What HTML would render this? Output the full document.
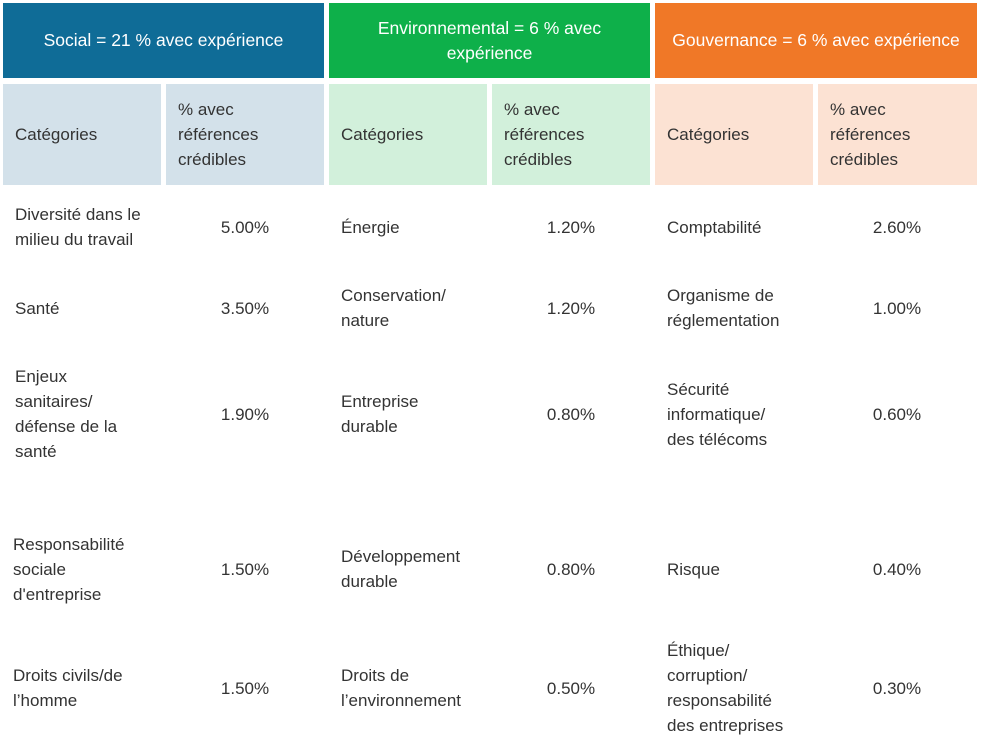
<!DOCTYPE html>
<html><head><meta charset="utf-8"><style>
body{margin:0;width:983px;height:746px;background:#fff;position:relative;overflow:hidden;font-family:"Liberation Sans",sans-serif;color:#333;font-size:17px;}
.b{position:absolute;display:flex;align-items:center;box-sizing:border-box;}
.h{color:#fff;justify-content:center;text-align:center;font-size:17.5px;line-height:25px;padding:0 10px}
.s{padding-left:12px;line-height:25px}
.c{line-height:25px}
.v{justify-content:center}
</style></head><body>
<div class="b h" style="left:3px;top:3px;width:321px;height:75px;background:#0F6C97">Social = 21 % avec expérience</div>
<div class="b h" style="left:329px;top:3px;width:321px;height:75px;background:#0EB04A">Environnemental = 6 % avec expérience</div>
<div class="b h" style="left:655px;top:3px;width:322px;height:75px;background:#F07827">Gouvernance = 6 % avec expérience</div>

<div class="b s" style="left:3px;top:84px;width:158px;height:101px;background:#D3E1EA">Catégories</div>
<div class="b s" style="left:166px;top:84px;width:158px;height:101px;background:#D3E1EA">% avec<br>références<br>crédibles</div>
<div class="b s" style="left:329px;top:84px;width:158px;height:101px;background:#D2F0DB">Catégories</div>
<div class="b s" style="left:492px;top:84px;width:158px;height:101px;background:#D2F0DB">% avec<br>références<br>crédibles</div>
<div class="b s" style="left:655px;top:84px;width:158px;height:101px;background:#FCE2D3">Catégories</div>
<div class="b s" style="left:818px;top:84px;width:159px;height:101px;background:#FCE2D3">% avec<br>références<br>crédibles</div>

<div id="rows"></div>
<script>
const rowCenters=[227,308,414,569,688];
const socialCats=["Diversité dans le<br>milieu du travail","Santé","Enjeux<br>sanitaires/<br>défense de la<br>santé","Responsabilité<br>sociale<br>d'entreprise","Droits civils/de<br>l’homme"];
const socialVals=["5.00%","3.50%","1.90%","1.50%","1.50%"];
const envCats=["Énergie","Conservation/<br>nature","Entreprise<br>durable","Développement<br>durable","Droits de<br>l’environnement"];
const envVals=["1.20%","1.20%","0.80%","0.80%","0.50%"];
const govCats=["Comptabilité","Organisme de<br>réglementation","Sécurité<br>informatique/<br>des télécoms","Risque","Éthique/<br>corruption/<br>responsabilité<br>des entreprises"];
const govVals=["2.60%","1.00%","0.60%","0.40%","0.30%"];
const groups=[["social",socialCats,socialVals,15,166],["env",envCats,envVals,341,492],["gov",govCats,govVals,667,818]];
const root=document.getElementById('rows');
groups.forEach(g=>{
  g[1].forEach((t,i)=>{
    const d=document.createElement('div');
    d.className='b c';
    
    
    d.style.cssText=`left:${g[3]-(g[0]=='social'&&i>=3?2:0)}px;top:${rowCenters[i]-60}px;height:120px;width:150px`;
    d.innerHTML=t;root.appendChild(d);
    const v=document.createElement('div');
    v.className='b c v';
    
    
    v.style.cssText=`left:${g[4]}px;top:${rowCenters[i]-60}px;height:120px;width:158px`;
    v.textContent=g[2][i];root.appendChild(v);
  });
});
</script>
</body></html>
